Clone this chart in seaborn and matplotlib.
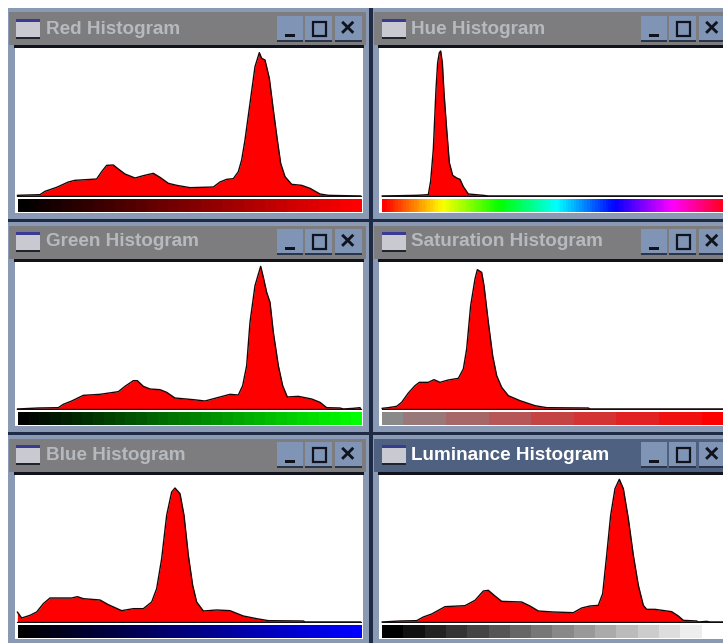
import numpy as np
import matplotlib
matplotlib.use("Agg")
import matplotlib.pyplot as plt
from matplotlib.colors import LinearSegmentedColormap
from matplotlib.patches import Rectangle
import seaborn as sns

sns.set_theme(style="white")
plt.rcParams['font.family'] = ['Liberation Sans', 'DejaVu Sans']

titles = ["Red Histogram", "Hue Histogram", "Green Histogram",
          "Saturation Histogram", "Blue Histogram", "Luminance Histogram"]

red_x = [52,120,135,170,205,225,290,305,320,340,355,375,405,430,460,480,505,530,570,640,660,680,700,715,725,735,750,765,778,785,795,808,820,832,842,855,875,905,930,960,985,1082]
red_y = [2,4,14,26,42,47,51,73,92,93,81,66,54,61,68,56,38,32,25,27,42,50,52,73,108,168,278,388,430,413,408,353,258,168,98,58,35,32,23,6,2,0]

hue_x = [66,170,205,212,220,228,233,238,242,247,252,260,268,278,290,300,310,325,370,385,1089]
hue_y = [0,2,4,45,140,320,400,430,435,400,310,200,100,62,54,50,28,6,2,0,0]

green_x = [52,115,175,190,215,250,300,355,375,400,412,430,450,480,500,525,580,615,660,690,715,728,740,750,765,782,790,800,810,820,835,848,862,895,935,960,980,1020,1030,1060,1080,1082]
green_y = [0,3,4,14,24,41,44,52,68,85,85,68,60,58,50,33,28,24,36,44,42,70,130,260,370,428,395,350,320,230,130,70,36,38,30,20,4,3,0,2,4,0]

sat_x = [66,85,110,125,145,165,178,205,222,240,265,295,310,320,332,345,352,365,372,385,398,410,425,445,480,525,560,685,690,1089]
sat_y = [2,4,8,20,48,70,80,80,88,80,87,92,120,180,310,390,418,410,370,260,160,100,65,40,25,10,4,3,0,0]

blue_x = [52,65,90,110,130,150,215,232,250,300,325,365,400,430,455,470,485,500,515,525,540,552,565,578,590,610,650,690,730,770,805,910,915,1082]
blue_y = [30,12,20,30,55,72,72,76,70,66,52,34,40,40,60,100,190,320,390,402,385,320,200,110,60,33,36,34,18,10,4,3,0,0]

lum_x = [66,120,170,190,215,235,255,315,345,370,385,405,425,485,510,535,580,640,665,690,715,728,740,752,765,778,790,805,820,835,850,860,885,935,955,970,1010,1015,1040,1050,1089]
lum_y = [0,3,4,15,24,35,46,49,65,93,95,78,62,60,48,33,30,28,42,48,50,85,200,320,400,428,400,310,200,110,50,38,38,31,18,5,3,0,2,0,0]

series_x = [red_x, hue_x, green_x, sat_x, blue_x, lum_x]
series_y = [red_y, hue_y, green_y, sat_y, blue_y, lum_y]

W, H = 723, 643
fig = plt.figure(figsize=(W/100, H/100), dpi=100, facecolor="white")

bg = fig.add_axes([0, 0, 1, 1])
bg.set_xlim(0, W)
bg.set_ylim(H, 0)
bg.axis("off")

def box(x0, y0, x1, y1, color, **kw):
    bg.add_patch(Rectangle((x0, y0), x1-x0, y1-y0, facecolor=color, edgecolor="none", **kw))

def px_axes(x0, y0, x1, y1):
    return fig.add_axes([x0/W, 1-y1/H, (x1-x0)/W, (y1-y0)/H])

cols = [dict(fx0=8, fx1=369, wx0=15, wx1=363, gx0=17.5, gx1=361, tx=46, ix=16, bx=277, xlim=(45, 1089)),
        dict(fx0=373, fx1=723, wx0=379, wx1=723, gx0=382, gx1=723, tx=411, ix=382, bx=641, xlim=(57, 1089))]
rows = [dict(fy0=8, fy1=219, ty0=12, ty1=45, wy0=48, base=196, gy0=199, gy1=212, tc=29),
        dict(fy0=222, fy1=432, ty0=226, ty1=259, wy0=262, base=409, gy0=412, gy1=425, tc=242),
        dict(fy0=435, fy1=643, ty0=439, ty1=472, wy0=475, base=622, gy0=625, gy1=638, tc=455)]

cm_red = LinearSegmentedColormap.from_list("r", ["#000000", "#ff0000"])
cm_green = LinearSegmentedColormap.from_list("g", ["#000000", "#00ff00"])
cm_blue = LinearSegmentedColormap.from_list("b", ["#000000", "#0000ff"])
cm_sat = LinearSegmentedColormap.from_list("s", ["#8a8a8a", "#ff0000"])
cm_lum = LinearSegmentedColormap.from_list("l", ["#000000", "#ffffff"])

ramp_red = np.linspace(0, 1, 32)
ramp_hue = np.linspace(0, 0.99, 128)
ramp_sat = np.repeat(np.linspace(0, 1, 9), [1, 2, 2, 2, 2, 2, 2, 2, 1])
ramp_lum = np.linspace(0, 1, 16)
ramps = [(cm_red, ramp_red), ("hsv", ramp_hue), (cm_green, ramp_red),
         (cm_sat, ramp_sat), (cm_blue, ramp_red), (cm_lum, ramp_lum)]

box(8, 8, W, H, "#1f2b45")

for i, title in enumerate(titles):
    c, r = cols[i % 2], rows[i // 2]
    active = i == 5
    box(c["fx0"], r["fy0"], c["fx1"], r["fy1"], "#8a9ab4")
    box(c["fx0"]+1, r["ty0"], c["fx1"]-3 if i % 2 == 0 else W, r["ty1"], "#4f6180" if active else "#7d7d7f")
    box(c["wx0"]-1, r["ty1"], c["wx1"]+1, r["ty1"]+3, "#10131c")
    box(c["wx0"], r["wy0"], c["wx1"], r["gy1"]+1, "white")
    bg.text(c["tx"], r["tc"], title, color="#ffffff" if active else "#b6babf",
            fontsize=13.6, fontweight="bold", va="center", ha="left")

    ix, ic = c["ix"], r["tc"]
    box(ix, ic-10, ix+24, ic+9, "#c9c9d2")
    box(ix, ic-10, ix+24, ic-7, "#3a3a90")
    box(ix, ic+8, ix+24, ic+10, "#20242c")

    bx = c["bx"]
    for dx, w in [(0, 26), (28, 27), (58, 27)]:
        box(bx+dx, ic-13, bx+dx+w, ic+12, "#8094b6")
        box(bx+dx, ic+11, bx+dx+w, ic+13, "#2c3548")
    box(bx+8, ic+5, bx+18, ic+8, "#10131c")
    bg.add_patch(Rectangle((bx+36, ic-7), 13, 14, facecolor="none", edgecolor="#10131c", linewidth=1.6))
    bg.text(bx+71, ic, "×", color="#10131c", fontsize=19, fontweight="bold", ha="center", va="center")

    ax = px_axes(c["wx0"], r["wy0"], c["wx1"], r["base"]+1)
    ax.set_xlim(*c["xlim"])
    ax.set_ylim(-3, (r["base"]-r["wy0"])*3)
    ax.axis("off")
    ax.patch.set_alpha(0)
    x, y = np.array(series_x[i]), np.array(series_y[i])
    ax.fill_between(x, 0, y, color="#ff0000", linewidth=0)
    sns.lineplot(x=x, y=y, ax=ax, color="#1c0505", linewidth=1.0, estimator=None,
                 sort=False, legend=False)
    ax.plot([x[0], x[-1]], [0, 0], color="#101010", linewidth=1.0)

    g = px_axes(c["gx0"], r["gy0"], c["gx1"], r["gy1"])
    cmap, values = ramps[i]
    g.imshow(values[None, :], cmap=cmap, vmin=0, vmax=1, aspect="auto", interpolation="nearest")
    g.axis("off")

fig.savefig("out.png", dpi=100, facecolor="white")
